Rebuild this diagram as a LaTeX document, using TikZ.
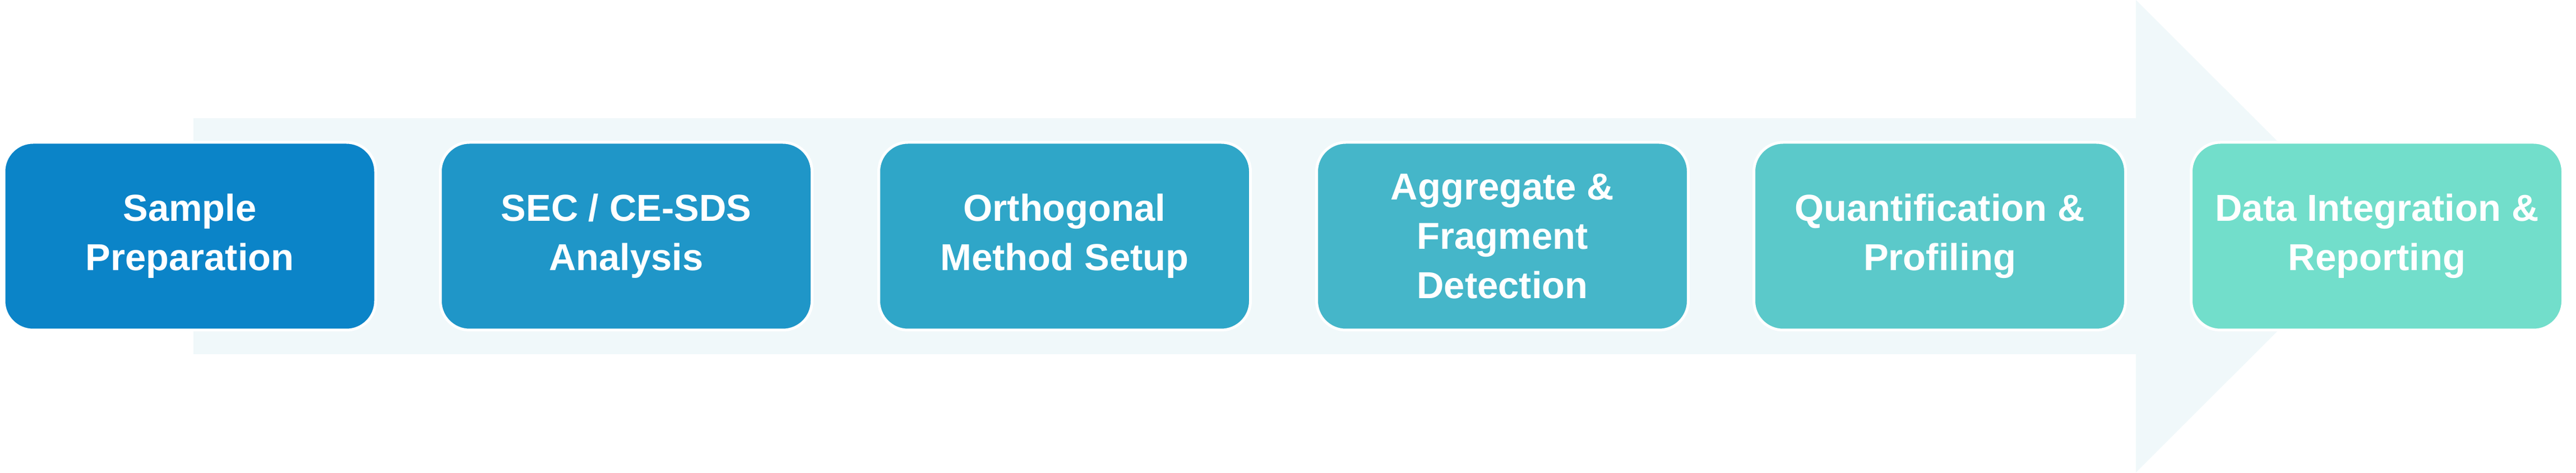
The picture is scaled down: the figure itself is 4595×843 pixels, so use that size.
\documentclass[tikz,border=0pt]{standalone}
\usepackage{fontspec}
\setmainfont{Liberation Sans}
\definecolor{arrowbg}{HTML}{F0F8FA}
\definecolor{cA}{HTML}{0B84C8}
\definecolor{cB}{HTML}{1F96C8}
\definecolor{cC}{HTML}{2FA6C8}
\definecolor{cD}{HTML}{45B6C9}
\definecolor{cE}{HTML}{5BC9CA}
\definecolor{cF}{HTML}{72DECB}
\begin{document}
\begin{tikzpicture}[x=1pt,y=1pt,
  stepbox/.style={draw=white, line width=5pt, rounded corners=52pt,
    minimum width=663pt, minimum height=335pt, inner sep=0pt,
    text=white, align=center,
    font=\fontsize{67}{88}\selectfont\bfseries}]
\useasboundingbox (0,0) rectangle (4595,843);
% big background arrow
\fill[arrowbg] (345,211) -- (3810,211) -- (3810,0) -- (4232,421.5)
  -- (3810,843) -- (3810,632) -- (345,632) -- cycle;
% steps
\node[stepbox, fill=cA] (s1) at (338.5,421.5) {Sample\\Preparation};
\node[stepbox, fill=cB] (s2) at (1117,421.5) {SEC / CE-SDS\\Analysis};
\node[stepbox, fill=cC] (s3) at (1899,421.5) {Orthogonal\\Method Setup};
\node[stepbox, fill=cD] (s4) at (2680,421.5) {Aggregate \&\\Fragment\\Detection};
\node[stepbox, fill=cE] (s5) at (3460,421.5) {Quantification \&\\Profiling};
\node[stepbox, fill=cF] (s6) at (4240,421.5) {Data Integration \&\\Reporting};
\end{tikzpicture}
\end{document}
